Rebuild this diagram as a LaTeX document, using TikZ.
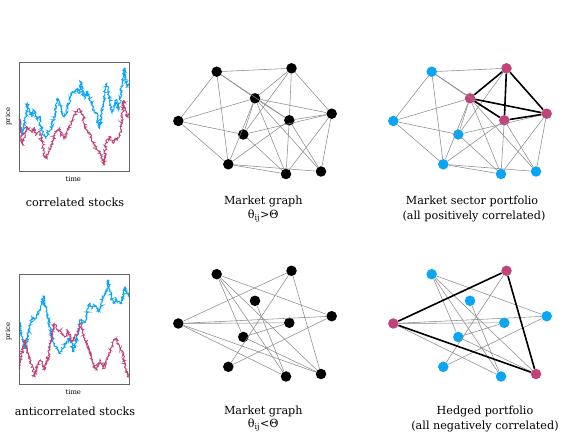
\documentclass[tikz,border=0pt]{standalone}
\usepackage{fontspec}
\setmainfont{DejaVu Serif}
\usetikzlibrary{decorations.pathmorphing}
\definecolor{skyb}{RGB}{10,165,245}
\definecolor{rose}{RGB}{192,68,122}
\definecolor{edgegray}{RGB}{140,140,140}
\begin{document}
\begin{tikzpicture}[x=1pt,y=-1pt,
  vtx/.style={circle,inner sep=0pt,minimum size=10.5pt,fill=black},
  bvtx/.style={vtx,fill=skyb},
  rvtx/.style={vtx,fill=rose},
  gedge/.style={draw=edgegray,line width=0.55pt},
  kedge/.style={draw=black,line width=1.6pt},
  caplbl/.style={font=\fontsize{11.2}{13}\selectfont},
  tinylbl/.style={font=\fontsize{6.8}{7}\selectfont},
  chartframe/.style={draw=black!60,line width=0.7pt},
  stockline/.style={line width=0.95pt,decorate,decoration={random steps,segment length=0.8pt,amplitude=1.3pt}},
  stockb/.style={stockline,draw=skyb},
  stockr/.style={stockline,draw=rose}
]
\useasboundingbox (0,0) rectangle (587,443);
\pgfmathsetseed{11}
% ---------- top chart ----------
\begin{scope}[shift={(0,50)},scale=1/3]
  \begin{scope}
    \clip (57,37) rectangle (387,363);
    \draw[stockb] (57,195) -- (62,235) -- (68,255) -- (75,210) -- (82,160) -- (88,185) -- (95,200) -- (100,180) -- (105,190) -- (112,210) -- (118,200) -- (125,240) -- (132,255) -- (138,265) -- (145,245) -- (152,240) -- (158,215) -- (165,195) -- (172,145) -- (178,155) -- (185,180) -- (192,200) -- (198,190) -- (205,160) -- (212,140) -- (218,125) -- (225,125) -- (232,115) -- (238,130) -- (243,95) -- (248,130) -- (255,145) -- (262,125) -- (268,140) -- (275,165) -- (282,185) -- (290,190) -- (295,220) -- (298,235) -- (303,200) -- (310,160) -- (315,120) -- (320,100) -- (325,130) -- (330,150) -- (336,185) -- (342,170) -- (348,150) -- (355,180) -- (360,150) -- (365,110) -- (370,80) -- (373,55) -- (378,95) -- (383,110) -- (387,100);
    \draw[stockr] (57,200) -- (62,240) -- (68,285) -- (75,255) -- (80,230) -- (88,240) -- (95,245) -- (100,235) -- (108,255) -- (115,245) -- (120,250) -- (126,275) -- (132,305) -- (138,325) -- (145,305) -- (152,290) -- (158,275) -- (165,250) -- (172,240) -- (178,235) -- (185,255) -- (192,265) -- (198,255) -- (205,240) -- (212,225) -- (218,205) -- (225,195) -- (232,180) -- (238,175) -- (245,190) -- (250,205) -- (255,225) -- (262,245) -- (270,250) -- (278,275) -- (285,285) -- (292,300) -- (300,310) -- (305,325) -- (312,345) -- (316,300) -- (320,275) -- (327,260) -- (334,270) -- (340,280) -- (346,265) -- (352,270) -- (358,260) -- (363,240) -- (367,195) -- (371,150) -- (375,180) -- (380,200) -- (387,190);
  \end{scope}
  \draw[chartframe] (57,37) rectangle (387,363);
\end{scope}
\node[tinylbl,rotate=90] (tprice) at (8.3,116.7) {price};
\node[tinylbl] (ttime) at (73.3,179.5) {time};
\node[caplbl] (tcap) at (75,202.5) {correlated stocks};
% ---------- bottom chart ----------
\begin{scope}[shift={(0,260)},scale=1/3]
  \begin{scope}
    \clip (57,43) rectangle (387,372);
    \draw[stockb] (57,180) -- (63,215) -- (70,245) -- (76,265) -- (82,235) -- (90,195) -- (96,170) -- (103,180) -- (110,165) -- (118,150) -- (125,130) -- (130,108) -- (135,140) -- (142,170) -- (148,185) -- (152,215) -- (158,240) -- (165,260) -- (172,265) -- (178,280) -- (185,270) -- (192,260) -- (198,250) -- (205,235) -- (212,245) -- (218,265) -- (222,275) -- (228,245) -- (234,220) -- (240,180) -- (246,190) -- (252,185) -- (258,180) -- (264,145) -- (270,130) -- (277,145) -- (284,135) -- (290,140) -- (296,155) -- (302,145) -- (307,110) -- (313,105) -- (318,100) -- (324,60) -- (330,95) -- (336,120) -- (342,130) -- (348,115) -- (355,125) -- (362,130) -- (368,110) -- (374,80) -- (380,95) -- (387,110);
    \draw[stockr] (57,325) -- (62,290) -- (68,270) -- (74,240) -- (80,265) -- (86,290) -- (92,310) -- (98,330) -- (105,350) -- (110,325) -- (116,305) -- (122,300) -- (128,320) -- (134,330) -- (140,305) -- (146,285) -- (152,250) -- (158,215) -- (162,190) -- (168,200) -- (175,215) -- (182,210) -- (188,225) -- (195,230) -- (202,210) -- (208,225) -- (214,245) -- (220,240) -- (228,225) -- (235,210) -- (242,190) -- (248,210) -- (255,240) -- (262,250) -- (268,270) -- (275,295) -- (282,315) -- (288,330) -- (294,315) -- (300,300) -- (306,310) -- (312,325) -- (318,300) -- (325,290) -- (332,270) -- (338,255) -- (344,240) -- (350,235) -- (355,250) -- (360,270) -- (366,275) -- (372,300) -- (377,330) -- (382,350) -- (387,340);
  \end{scope}
  \draw[chartframe] (57,43) rectangle (387,372);
\end{scope}
\node[tinylbl,rotate=90] (bprice) at (8.3,331.7) {price};
\node[tinylbl] (btime) at (73.3,392) {time};
\node[caplbl] (bcap) at (75,411.7) {anticorrelated stocks};
% ---------- graph nodes ----------
\foreach \n/\x/\y in {A/216.7/71.7,B/291.5/68.3,C/255/98.3,D/178.3/121,E/289.3/120.3,F/331.7/113.7,G/243.3/134.5,H/228.3/164.3,I/286/174,J/321/171.5}{
  \node[vtx] (t1\n) at (\x,\y) {};
  \node[vtx] (b1\n) at (\x,\y+202.5) {};
}
\foreach \n/\x/\y/\s in {A/216.7/71.7/bvtx,B/291.5/68.3/rvtx,C/255/98.3/rvtx,D/178.3/121/bvtx,E/289.3/120.3/rvtx,F/331.7/113.7/rvtx,G/243.3/134.5/bvtx,H/228.3/164.3/bvtx,I/286/174/bvtx,J/321/171.5/bvtx}{
  \node[\s] (t2\n) at (\x+215,\y) {};
}
\foreach \n/\x/\y/\s in {A/216.7/71.7/bvtx,B/291.5/68.3/rvtx,C/255/98.3/bvtx,D/178.3/121/rvtx,E/289.3/120.3/bvtx,F/331.7/113.7/bvtx,G/243.3/134.5/bvtx,H/228.3/164.3/bvtx,I/286/174/bvtx,J/321/171.5/rvtx}{
  \node[\s] (b2\n) at (\x+215,\y+202.5) {};
}
% ---------- edges ----------
\foreach \a/\b in {A/B,A/D,A/H,A/C,A/E,B/C,B/E,B/F,B/G,C/D,C/E,C/F,C/G,C/H,C/I,C/J,D/G,D/H,E/F,G/F,E/H,E/I,E/J,F/I,F/J,G/I,H/I,H/J}{
  \draw[gedge] (t1\a) -- (t1\b);
  \draw[gedge] (t2\a) -- (t2\b);
}
\foreach \a/\b in {B/C,B/E,B/F,C/E,C/F,E/F}{
  \draw[kedge] (t2\a) -- (t2\b);
}
\foreach \a/\b in {A/F,A/G,A/I,A/J,B/D,B/H,B/J,C/I,D/E,D/F,D/I,D/J,G/E,G/J,H/F}{
  \draw[gedge] (b1\a) -- (b1\b);
  \draw[gedge] (b2\a) -- (b2\b);
}
\foreach \a/\b in {D/B,B/J,D/J}{
  \draw[kedge] (b2\a) -- (b2\b);
}
% ---------- captions ----------
\node[caplbl] (t1cap) at (263.3,201.7) {Market graph};
\node[caplbl] (t1thr) at (263.3,216) {θ\textsubscript{ij}>Θ};
\node[caplbl] (t2cap) at (472,201.7) {Market sector portfolio};
\node[caplbl] (t2sub) at (474,216) {(all positively correlated)};
\node[caplbl] (b1cap) at (263.3,411) {Market graph};
\node[caplbl] (b1thr) at (263.3,425.5) {θ\textsubscript{ij}<Θ};
\node[caplbl] (b2cap) at (485,411) {Hedged portfolio};
\node[caplbl] (b2sub) at (485,426.5) {(all negatively correlated)};
\end{tikzpicture}
\end{document}
